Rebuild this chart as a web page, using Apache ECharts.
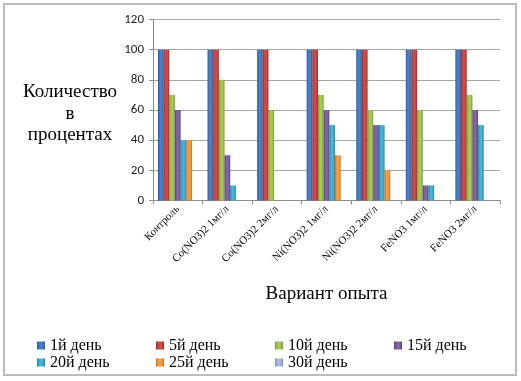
<!DOCTYPE html>
<html><head><meta charset="utf-8">
<script src="https://cdn.jsdelivr.net/npm/echarts@6/dist/echarts.min.js"></script>
<style>html,body{margin:0;padding:0;background:#fff}#c{width:521px;height:381px}</style>
</head><body><div id="c"></div>
<script>
const categories = ['Контроль','Co(NO3)2 1мг/л','Co(NO3)2 2мг/л','Ni(NO3)2 1мг/л','Ni(NO3)2 2мг/л','FeNO3 1мг/л','FeNO3 2мг/л'];
const seriesNames = ['1й день','5й день','10й день','15й день','20й день','25й день','30й день'];
const day1  = [100,100,100,100,100,100,100];
const day5  = [100,100,100,100,100,100,100];
const day10 = [70,80,60,70,60,60,70];
const day15 = [60,30,0,60,50,10,60];
const day20 = [40,10,0,50,50,10,50];
const day25 = [40,0,0,30,20,0,0];
const day30 = [0,0,0,0,0,0,0];
const yTicks = [0,20,40,60,80,100,120];

const SERIF = 'Liberation Serif';
const seriesValues = [day1,day5,day10,day15,day20,day25,day30];
const colors = [
  ['#2c5b9c','#4a7fc4'],
  ['#a32b29','#cf4a45'],
  ['#7a9e32','#a5c955'],
  ['#5d4283','#8264a8'],
  ['#22869f','#45b7d4'],
  ['#d8701a','#f79a45'],
  ['#7b8fbd','#a9bde0']
];
function grad(c){
  return new echarts.graphic.LinearGradient(0,0,1,0,[
    {offset:0,color:c[0]},{offset:0.35,color:c[1]},{offset:0.65,color:c[1]},{offset:1,color:c[0]}
  ]);
}
const chart = echarts.init(document.getElementById('c'));
chart.setOption({
  animation:false,
  backgroundColor:'#fff',
  color: colors.map(c=>c[1]),
  grid:{left:153,right:21,top:19.5,bottom:180.5,containLabel:false},
  graphic:[
    {type:'rect',shape:{x:4,y:4,width:512,height:371},style:{fill:'none',stroke:'#bdbdbd',lineWidth:2},silent:true,z:-1},
    {type:'text',x:70,y:114,style:{text:'Количество\nв\nпроцентах',fontFamily:SERIF,fontSize:19,fill:'#000',align:'center',textAlign:'center',verticalAlign:'middle',lineHeight:21.5},silent:true}
  ],
  legend:{
    left:32, top:332, width:490,
    itemWidth:8, itemHeight:8, itemGap:0, itemTextGap:5,
    icon:'rect',
    textStyle:{fontFamily:SERIF,fontSize:16,color:'#000',width:106,overflow:'none',lineHeight:17},
    data:seriesNames
  },
  xAxis:{
    type:'category', data:categories,
    axisLine:{lineStyle:{color:'#8c8c8c'}},
    axisTick:{show:true,length:4,lineStyle:{color:'#8c8c8c'}},
    axisLabel:{rotate:45,fontFamily:SERIF,fontSize:11,color:'#000',margin:7,interval:0},
    name:'Вариант опыта', nameLocation:'middle', nameGap:84,
    nameTextStyle:{fontFamily:SERIF,fontSize:19,color:'#000'}
  },
  yAxis:{
    type:'value', min:yTicks[0], max:yTicks[yTicks.length-1], interval:20,
    axisLine:{show:true,lineStyle:{color:'#8c8c8c'}},
    axisTick:{show:true,length:4,lineStyle:{color:'#8c8c8c'}},
    splitLine:{lineStyle:{color:'#a6a6a6'}},
    axisLabel:{fontFamily:'Carlito, Liberation Sans, sans-serif',fontSize:13,color:'#222',margin:9}
  },
  series: seriesNames.map((n,i)=>({
    name:n, type:'bar', data:seriesValues[i],
    barGap:'0%', barCategoryGap:'20%',
    itemStyle:{color:grad(colors[i])}
  }))
});
</script></body></html>
